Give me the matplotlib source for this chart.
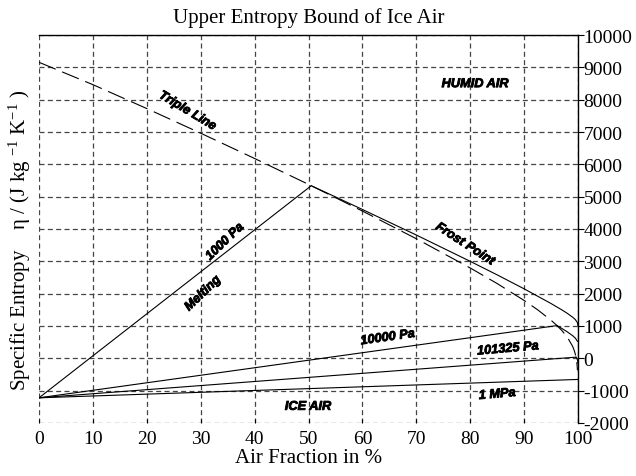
import matplotlib
matplotlib.use("Agg")
import matplotlib.pyplot as plt
import matplotlib.patheffects as pe

plt.rcParams['mathtext.fontset'] = 'custom'
plt.rcParams['mathtext.rm'] = 'Liberation Serif'
plt.rcParams['mathtext.it'] = 'Liberation Serif:italic'
plt.rcParams['lines.scale_dashes'] = False
plt.rcParams['axes.unicode_minus'] = False

# ---- data (air fraction in %, specific entropy in J/(kg K)) ----
triple_A = [0, 10, 20, 30, 40, 50, 55, 60, 70, 80, 85, 90, 92.5, 95, 96, 97, 98,
            99, 99.3, 99.5, 99.65, 99.8, 99.85, 99.9]
triple_eta = [9156, 8464, 7725, 6963, 6181, 5380, 4970, 4555, 3699, 2795, 2313, 1791,
              1503, 1178, 1029, 862, 659, 373, 244, 129, 13, -162, -249, -370]

ice_eta = -1221
melt_peak_A = [50.51, 96.11, 99.62, 99.96]        # 1000 Pa, 10000 Pa, 101325 Pa, 1 MPa
melt_peak_eta = [5338, 1013, 36, -653]

frost_1000_A = [50.51, 55, 60, 70, 80, 85, 90, 95, 97, 98, 99, 99.5, 99.9, 99.99]
frost_1000_eta = [5338, 4993, 4604, 3814, 3000, 2582, 2150, 1695, 1499, 1393, 1273,
                  1199, 1101, 1013]
frost_10000_A = [96.11, 97, 98, 99, 99.5, 99.9]
frost_10000_eta = [1013, 925, 820, 702, 627, 525]
frost_101325_A = [99.62, 99.8, 99.9, 99.99]
frost_101325_eta = [36, -8, -47, -149]

x_ticks = [0, 10, 20, 30, 40, 50, 60, 70, 80, 90, 100]
y_ticks = [-2000, -1000, 0, 1000, 2000, 3000, 4000, 5000, 6000, 7000, 8000, 9000, 10000]

labels = [
    ("Triple Line", 27.5, 7650, -31),
    ("1000 Pa", 34.5, 3600, 44),
    ("Melting", 30.4, 2000, 44),
    ("Frost Point", 79.0, 3530, -33),
    ("HUMID AIR", 80.9, 8480, 0),
    ("10000 Pa", 64.7, 640, 8),
    ("101325 Pa", 87.0, 290, 5),
    ("ICE AIR", 49.9, -1500, 0),
    ("1 MPa", 85.0, -1120, 5),
]

fig = plt.figure(figsize=(6.36, 4.77), dpi=100)
ax = fig.add_axes([39/636, 53/477, 539/636, 388/477])

serif = 'Liberation Serif'
lw = 0.8

ax.plot(triple_A, triple_eta, color='black', lw=lw, linestyle=(0, (13, 5)))
for a, e in zip(melt_peak_A, melt_peak_eta):
    ax.plot([0, a], [ice_eta, e], color='black', lw=lw)
ax.plot(frost_1000_A, frost_1000_eta, color='black', lw=lw)
ax.plot(frost_10000_A, frost_10000_eta, color='black', lw=lw)
ax.plot(frost_101325_A, frost_101325_eta, color='black', lw=lw)

ax.set_xlim(0, 100)
ax.set_ylim(-2000, 10000)
ax.set_xticks(x_ticks)
ax.set_yticks(y_ticks)
ax.grid(True, color='#444444', lw=0.9, linestyle=(0, (3.6, 2.4)))
ax.set_axisbelow(True)

ax.yaxis.tick_right()
ax.tick_params(axis='y', which='both', direction='out', length=4, width=0.8,
               labelsize=14, pad=0, left=False, right=True)
ax.tick_params(axis='x', which='both', direction='in', length=3, width=0.8,
               labelsize=14, pad=5, top=False)
for lab in ax.get_xticklabels() + ax.get_yticklabels():
    lab.set_fontfamily(serif)

ax.spines['left'].set_visible(False)
ax.spines['bottom'].set_visible(False)
ax.spines['top'].set_linewidth(1.0)
ax.spines['right'].set_linewidth(1.0)

ax.set_title("Upper Entropy Bound of Ice Air", fontfamily=serif, fontsize=15, pad=9)
ax.set_xlabel("Air Fraction in %", fontfamily=serif, fontsize=15, labelpad=1)
fig.text(0.031, 0.497, "Specific Entropy    \u03b7 / (J kg $^{-1}$ K$^{-1}$ )",
         rotation=90, va='center', ha='center', fontfamily=serif, fontsize=15)

for txt, x, y, rot in labels:
    ax.text(x, y, txt, rotation=rot, rotation_mode='anchor', ha='center', va='center',
            fontfamily='Liberation Sans', fontweight='bold', fontstyle='italic',
            fontsize=9.2, color='black',
            path_effects=[pe.withStroke(linewidth=0.6, foreground='black')])

fig.savefig("out.png", dpi=100)
